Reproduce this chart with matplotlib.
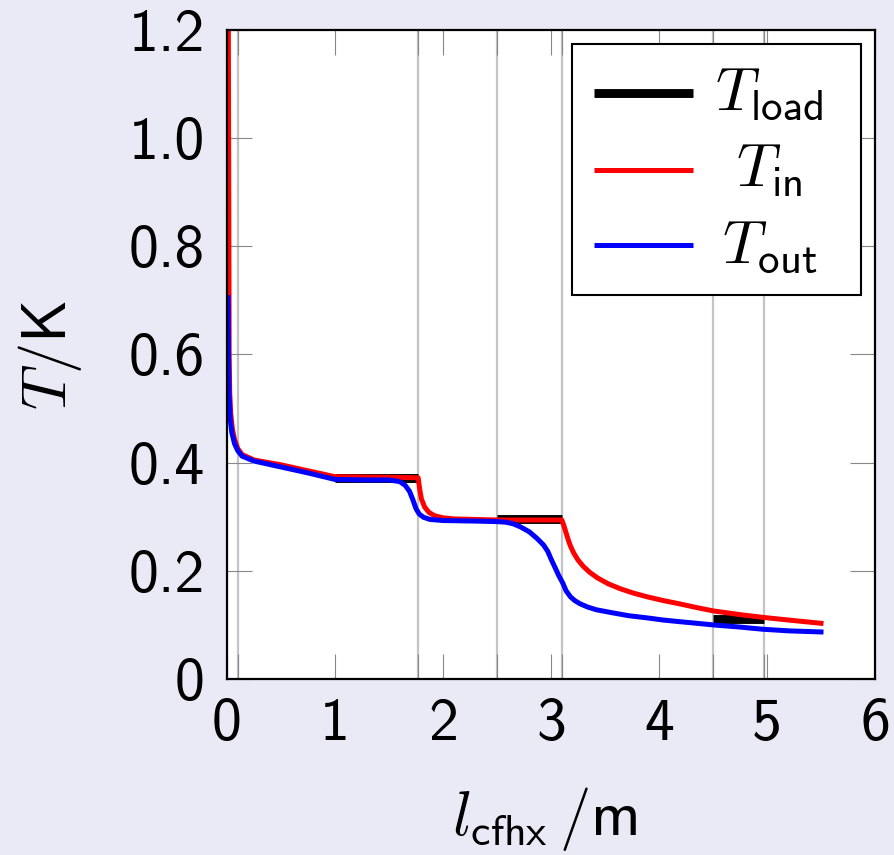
import matplotlib
matplotlib.use('Agg')
import matplotlib.pyplot as plt
from matplotlib.patches import Rectangle

plt.rcParams['mathtext.fontset'] = 'cm'
plt.rcParams['font.family'] = ['cmss10', 'DejaVu Sans']
plt.rcParams['axes.unicode_minus'] = False
plt.rcParams['axes.formatter.use_mathtext'] = True

# ---------------- data ----------------
x_in = [0.012, 0.02, 0.025, 0.035, 0.05, 0.07, 0.1, 0.14, 0.25, 0.5, 0.75, 1.0,
        1.5, 1.77, 1.785, 1.80, 1.83, 1.87, 1.92, 2.0, 2.1, 2.3, 2.5, 3.0, 3.1,
        3.12, 3.14, 3.16, 3.18, 3.21, 3.25, 3.30, 3.36, 3.43, 3.53, 3.64, 3.76,
        3.89, 4.04, 4.19, 4.35, 4.5, 4.75, 4.96, 5.2, 5.5]
t_in = [1.25, 0.60, 0.53, 0.49, 0.462, 0.443, 0.426, 0.415, 0.405, 0.396, 0.385, 0.374,
        0.373, 0.372, 0.350, 0.333, 0.318, 0.308, 0.302, 0.298, 0.296, 0.295, 0.294, 0.294, 0.294,
        0.283, 0.270, 0.257, 0.246, 0.233, 0.220, 0.208, 0.197, 0.187, 0.176, 0.167, 0.159,
        0.152, 0.145, 0.139, 0.132, 0.126, 0.119, 0.114, 0.109, 0.103]

x_out = [0.01, 0.015, 0.02, 0.03, 0.045, 0.07, 0.1, 0.14, 0.25, 0.5, 0.75, 1.0,
         1.3, 1.5, 1.6, 1.65, 1.69, 1.72, 1.75, 1.78, 1.82, 1.88, 2.0, 2.3, 2.5,
         2.58, 2.65, 2.72, 2.8, 2.87, 2.93, 2.97, 3.0, 3.04, 3.07, 3.11,
         3.14, 3.18, 3.22, 3.27, 3.34, 3.42, 3.5, 3.58, 3.72, 3.89, 4.04, 4.19,
         4.35, 4.5, 4.75, 4.96, 5.2, 5.5]
t_out = [0.705, 0.58, 0.52, 0.48, 0.455, 0.435, 0.422, 0.412, 0.403, 0.392, 0.381, 0.369,
         0.368, 0.368, 0.365, 0.358, 0.347, 0.332, 0.315, 0.305, 0.299, 0.295, 0.293, 0.292, 0.291,
         0.290, 0.287, 0.281, 0.272, 0.260, 0.248, 0.236, 0.222, 0.205, 0.192, 0.177,
         0.163, 0.152, 0.145, 0.139, 0.133, 0.128, 0.125, 0.122, 0.117, 0.113, 0.109, 0.106,
         0.103, 0.100, 0.096, 0.092, 0.089, 0.087]

load_start = [1.0, 2.5, 4.5]
load_end = [1.77, 3.1, 4.97]
t_load = [0.372, 0.296, 0.111]

grid_x = [0.1, 1.0, 1.77, 2.5, 3.1, 4.5, 4.97]

xticks = [0, 1, 2, 3, 4, 5, 6]
xtick_labels = ['0', '1', '2', '3', '4', '5', '6']
yticks = [0, 0.2, 0.4, 0.6, 0.8, 1.0, 1.2]
ytick_labels = ['0', '0.2', '0.4', '0.6', '0.8', '1.0', '1.2']

series_labels = [r'$T_{\mathsf{load}}$', r'$T_{\mathsf{in}}$', r'$T_{\mathsf{out}}$']
series_colors = ['black', '#ff0000', '#0000ff']
series_widths = [6.4, 3.6, 3.6]

# ---------------- figure ----------------
bg = '#eaeaf6'
W, H = 894, 855
fig = plt.figure(figsize=(W / 100, H / 100), dpi=100, facecolor=bg)
ax = fig.add_axes([227 / W, 1 - 679 / H, 648 / W, 649 / H])
ax.set_facecolor('white')

# T_load segments
for xs, xe, tv in zip(load_start, load_end, t_load):
    ax.plot([xs, xe], [tv, tv], color=series_colors[0], lw=series_widths[0],
            solid_capstyle='butt', zorder=3)
ax.plot(x_in, t_in, color=series_colors[1], lw=series_widths[1], zorder=4,
        solid_joinstyle='round')
ax.plot(x_out, t_out, color=series_colors[2], lw=series_widths[2], zorder=5,
        solid_joinstyle='round')

ax.set_xlim(0, 6)
ax.set_ylim(0, 1.2)

ax.set_xticks(xticks)
ax.set_xticklabels(xtick_labels)
ax.set_yticks(yticks)
ax.set_yticklabels(ytick_labels)
ax.set_xticks(grid_x, minor=True)
ax.xaxis.grid(True, which='minor', color='#c4c4c4', lw=1.6, zorder=0)
ax.set_axisbelow(True)

tick_kw = dict(direction='in', length=18, width=0.8, color='#888888',
               labelsize=43, labelcolor='black')
ax.tick_params(axis='x', which='both', top=True, bottom=True, pad=14, **tick_kw)
ax.tick_params(axis='y', which='both', left=True, right=True, pad=16, **tick_kw)

for sp in ax.spines.values():
    sp.set_linewidth(1.6)
    sp.set_color('black')
    sp.set_zorder(10)

ax.set_xlabel(r'$l_{\mathsf{cfhx}}\,/\mathsf{m}$', fontsize=45)
ax.xaxis.set_label_coords(0.49, -0.163)
ax.set_ylabel(r'$T/\mathsf{K}$', fontsize=45)
ax.yaxis.set_label_coords(-0.221, 0.5)

# ---------------- legend (manual, centered labels) ----------------
lx0, lx1, ly0, ly1 = 0.532, 0.979, 0.592, 0.978
ax.add_patch(Rectangle((lx0, ly0), lx1 - lx0, ly1 - ly0, transform=ax.transAxes,
                       facecolor='white', edgecolor='black', lw=1.5, zorder=20))
rows_y = [0.903, 0.785, 0.668]
for lab, col, lw, yy in zip(series_labels, series_colors, series_widths, rows_y):
    ax.plot([0.566, 0.719], [yy, yy], transform=ax.transAxes, color=col,
            lw=lw, solid_capstyle='butt', zorder=21, clip_on=False)
    ax.text(0.837, yy - 0.026, lab, transform=ax.transAxes, ha='center',
            va='baseline', fontsize=44, zorder=22)

fig.savefig('out.png', dpi=100, facecolor=bg)
